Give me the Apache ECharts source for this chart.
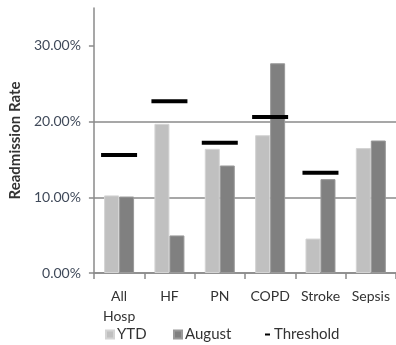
<!DOCTYPE html>
<html>
<head>
<meta charset="utf-8">
<script src="https://cdn.jsdelivr.net/npm/echarts@6/dist/echarts.min.js"></script>
<style>
  html, body { margin: 0; padding: 0; background: #fff; }
  #chart { width: 396px; height: 345px; }
</style>
</head>
<body>
<div id="chart"></div>
<script>
// Readmission rates by condition: year-to-date, August, and target threshold
const categories = ['All\nHosp', 'HF', 'PN', 'COPD', 'Stroke', 'Sepsis'];
const ytd = [0.1025, 0.197, 0.164, 0.182, 0.0455, 0.165];
const august = [0.101, 0.0496, 0.142, 0.277, 0.124, 0.175];
const threshold = [0.156, 0.227, 0.172, 0.206, 0.1325, '-'];
const yTicks = [0, 0.1, 0.2, 0.3];

const FONT = 'Lato';
const chart = echarts.init(document.getElementById('chart'));

const legendBase = {
  top: 327,
  padding: 0,
  itemWidth: 8,
  itemHeight: 8,
  itemGap: 4,
  textStyle: { fontFamily: FONT, fontSize: 15, color: '#333', padding: [0, 0, 0, -2] },
  selectedMode: false
};

chart.setOption({
  animation: false,
  textStyle: { fontFamily: FONT },
  grid: { left: 91, top: 8, width: 307, bottom: 72, containLabel: false },
  legend: [
    Object.assign({}, legendBase, { left: 105, data: [{ name: 'YTD', icon: 'rect' }] }),
    Object.assign({}, legendBase, { left: 173, data: [{ name: 'August', icon: 'rect' }] }),
    Object.assign({}, legendBase, {
      left: 263,
      data: [{ name: 'Threshold', icon: 'path://M0,0M8,8M2,3H7V5H2Z' }]
    })
  ],
  xAxis: {
    type: 'category',
    data: categories,
    axisLine: { lineStyle: { color: '#8a8a8a', width: 1.5 } },
    axisTick: { show: true, length: 6, lineStyle: { color: '#8a8a8a', width: 1.5 } },
    axisLabel: {
      fontFamily: FONT, fontSize: 14, color: '#333',
      interval: 0, hideOverlap: false,
      margin: 13, lineHeight: 20
    }
  },
  yAxis: {
    type: 'value',
    min: 0,
    max: 0.35,
    interval: 0.1,
    name: 'Readmission Rate',
    nameLocation: 'middle',
    nameGap: 70,
    nameRotate: 90,
    nameTextStyle: { fontFamily: FONT, fontSize: 15, fontWeight: 'bold', color: '#333' },
    axisLine: { show: true, lineStyle: { color: '#8a8a8a', width: 1.5 } },
    axisTick: {
      show: true, length: 5, customValues: yTicks,
      lineStyle: { color: '#8a8a8a', width: 1.5 }
    },
    axisLabel: {
      fontFamily: FONT, fontSize: 14, color: '#404a5a', margin: 13,
      customValues: yTicks,
      formatter: v => (v * 100).toFixed(2) + '%'
    },
    splitLine: { show: true, showMaxLine: false, lineStyle: { color: '#8a8a8a', width: 1.5 } }
  },
  series: [
    {
      name: 'YTD', type: 'bar', data: ytd,
      barWidth: 15, barGap: '0%',
      itemStyle: { color: '#c0c0c0', borderColor: '#d4d4d4', borderWidth: 1 }
    },
    {
      name: 'August', type: 'bar', data: august,
      barWidth: 15, barGap: '0%',
      itemStyle: { color: '#808080', borderColor: '#9a9a9a', borderWidth: 1 }
    },
    {
      name: 'Threshold', type: 'scatter', data: threshold,
      symbol: 'rect', symbolSize: [36, 4],
      itemStyle: { color: '#000', opacity: 1 },
      z: 5
    }
  ]
});
</script>
</body>
</html>
